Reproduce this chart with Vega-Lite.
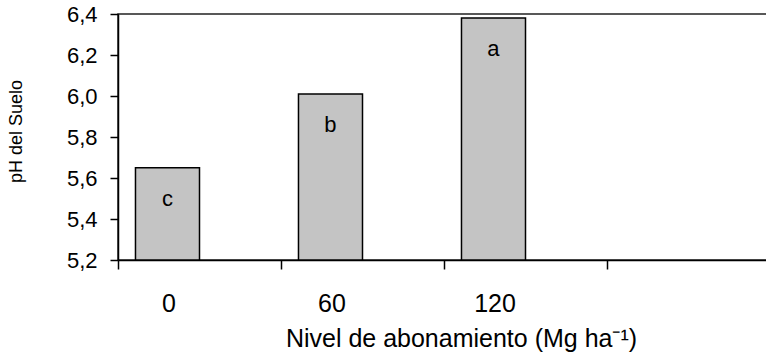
{
  "$schema": "https://vega.github.io/schema/vega-lite/v6.json",
  "autosize": {"type": "none"},
  "padding": {"left": 118, "top": 14, "right": 0, "bottom": 96},
  "width": 652,
  "height": 246,
  "background": "white",
  "config": {
    "view": {"stroke": "#222222", "strokeWidth": 1.5},
    "font": "Liberation Sans"
  },
  "data": {
    "values": [
      {"nivel": "0", "serie": "A", "ph": 5.65, "letra": "c"},
      {"nivel": "60", "serie": "A", "ph": 6.01, "letra": "b"},
      {"nivel": "120", "serie": "A", "ph": 6.38, "letra": "a"}
    ]
  },
  "encoding": {
    "x": {
      "field": "nivel",
      "type": "nominal",
      "sort": null,
      "scale": {"domain": ["0", "60", "120", "_"], "paddingInner": 0, "paddingOuter": 0},
      "axis": {
        "title": "Nivel de abonamiento (Mg ha⁻¹)",
        "tickBand": "extent",
        "labelAngle": 0,
        "labelOffset": -31,
        "labelExpr": "datum.value == '_' ? '' : datum.value",
        "labelFontSize": 25,
        "labelFont": "Liberation Sans",
        "labelColor": "#000000",
        "labelPadding": 22,
        "tickSize": 9,
        "tickColor": "#000000",
        "tickWidth": 1.5,
        "domainColor": "#000000",
        "domainWidth": 1.5,
        "titleFont": "Liberation Sans",
        "titleFontSize": 25,
        "titleFontWeight": "normal",
        "titleColor": "#000000",
        "titleX": 343,
        "titleY": 86,
        "titleBaseline": "alphabetic",
        "titleAlign": "center"
      }
    },
    "xOffset": {
      "field": "serie",
      "type": "nominal",
      "scale": {"domain": ["A", "B"], "paddingInner": 0, "paddingOuter": 0.273}
    },
    "y": {
      "field": "ph",
      "type": "quantitative",
      "scale": {"domain": [5.2, 6.4], "zero": false, "nice": false},
      "axis": {
        "title": "pH del Suelo",
        "values": [5.2, 5.4, 5.6, 5.8, 6.0, 6.2, 6.4],
        "labelExpr": "replace(format(datum.value, '.1f'), '.', ',')",
        "grid": false,
        "tickSize": 8,
        "tickColor": "#000000",
        "tickWidth": 1.5,
        "domainColor": "#000000",
        "domainWidth": 1.5,
        "labelPadding": 13,
        "labelFont": "Liberation Sans",
        "labelFontSize": 22,
        "labelColor": "#000000",
        "titleFont": "Liberation Sans",
        "titleFontSize": 18,
        "titleFontWeight": "normal",
        "titleColor": "#000000",
        "titleX": -102,
        "titleY": 117,
        "titleAngle": -90,
        "titleBaseline": "middle",
        "titleAlign": "center"
      }
    }
  },
  "layer": [
    {
      "mark": {"type": "bar", "fill": "#c4c4c4", "stroke": "#000000", "strokeWidth": 1.5},
      "encoding": {"y2": {"datum": 5.2}}
    },
    {
      "mark": {"type": "text", "dy": 31, "fontSize": 22, "font": "Liberation Sans", "fill": "#000000"},
      "encoding": {"text": {"field": "letra", "type": "nominal"}}
    }
  ]
}
